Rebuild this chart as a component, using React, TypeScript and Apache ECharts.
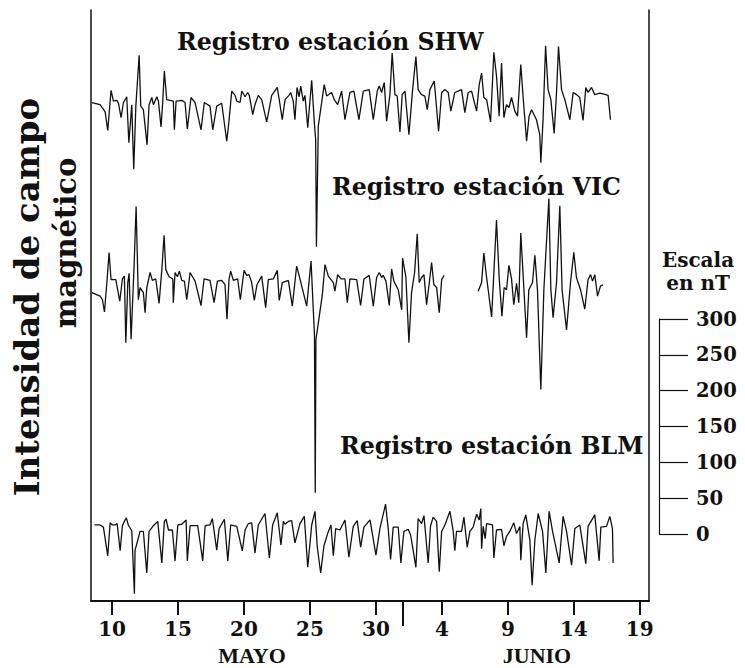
import React, { useEffect, useRef } from "react";
import * as echarts from "echarts";

// x = day count from 1 May (June d = 31 + d), y = deviation in nT from each station's trace baseline
const shwData: number[][] = [
  [8.46,0],[9.09,-3],[9.47,-13],[9.67,-39],[9.92,17],[10.10,2],[10.36,3],[10.48,-1],[10.68,-21],[10.86,0],[11.11,8],[11.27,-56],[11.49,-3],[11.64,-93],[11.80,-5],[12.05,66],[12.17,-5],[12.37,-10],[12.65,-59],[12.80,-3],[13.01,7],[13.13,-3],[13.39,8],[13.51,2],[13.71,-34],[13.84,2],[13.96,44],[14.14,4],[14.64,2],[14.72,-38],[14.85,2],[15.28,3],[15.53,0],[15.70,-37],[15.98,7],[16.29,0],[16.74,-38],[16.99,0],[17.42,-5],[17.63,-38],[17.93,-5],[18.31,-1],[18.69,-54],[18.86,-26],[19.07,16],[19.32,10],[19.45,2],[19.70,0],[19.83,16],[20.08,8],[20.28,14],[20.40,10],[20.66,-17],[20.83,-3],[21.08,10],[21.34,4],[21.72,-27],[22.10,10],[22.52,21],[22.67,4],[22.90,-24],[23.11,4],[23.41,10],[23.54,14],[23.73,2],[23.86,-24],[24.02,21],[24.17,8],[24.30,23],[24.49,2],[24.62,10],[24.83,-35],[25.13,31],[25.33,-28],[25.43,-52],[25.49,-201],[25.63,-33],[26.08,25],[26.27,9],[26.64,14],[26.84,4],[27.10,-3],[27.40,16],[27.65,-24],[28.03,14],[28.33,16],[28.71,-24],[29.04,16],[29.49,18],[29.80,-24],[30.10,16],[30.25,23],[30.43,14],[30.63,28],[30.81,-26],[31.06,11],[31.23,69],[31.44,11],[31.61,9],[31.82,-41],[31.99,11],[32.20,16],[32.50,-45],[32.78,18],[33.03,64],[33.20,18],[33.46,11],[33.71,9],[33.89,-10],[34.09,18],[34.42,30],[34.75,-40],[34.98,14],[35.23,18],[35.48,14],[35.68,-12],[35.98,14],[36.23,16],[36.49,18],[36.74,-14],[36.99,14],[37.25,16],[37.63,-12],[37.83,25],[38.01,41],[38.18,7],[38.39,4],[38.69,-27],[38.94,70],[39.14,37],[39.34,-19],[39.52,55],[39.70,-21],[39.90,-3],[40.08,-7],[40.28,7],[40.53,-12],[40.73,-19],[40.98,53],[41.16,7],[41.42,-54],[41.61,-19],[41.80,-10],[42.17,-24],[42.42,-45],[42.50,-84],[42.67,-24],[42.86,79],[43.05,18],[43.26,4],[43.51,-43],[43.69,14],[43.84,78],[44.07,18],[44.32,4],[44.70,-24],[44.95,14],[45.20,11],[45.45,7],[45.70,-25],[45.91,21],[46.08,14],[46.34,21],[46.59,11],[46.97,13],[47.42,11],[47.60,10],[47.78,-24]
];

const vicDataA: number[][] = [
  [8.46,0],[9.09,-5],[9.27,-10],[9.42,-27],[9.62,18],[9.77,56],[9.92,18],[10.28,18],[10.58,-12],[10.78,19],[10.93,23],[11.04,-70],[11.19,14],[11.29,27],[11.44,-65],[11.67,39],[11.82,120],[11.99,-10],[12.12,7],[12.37,0],[12.50,-28],[12.63,7],[12.88,28],[13.05,17],[13.31,19],[13.56,-15],[13.77,32],[13.94,80],[14.07,32],[14.32,22],[14.60,19],[14.64,-14],[14.77,28],[14.95,22],[15.10,30],[15.28,17],[15.48,16],[15.66,-10],[15.91,28],[16.29,16],[16.74,-18],[16.97,19],[17.42,17],[17.73,-14],[17.98,16],[18.31,17],[18.56,11],[18.71,-37],[18.86,18],[18.99,30],[19.19,17],[19.52,19],[19.72,-10],[20.00,31],[20.20,24],[20.38,25],[20.58,14],[20.78,-11],[20.98,11],[21.34,23],[21.64,-21],[21.84,18],[22.22,19],[22.52,31],[22.67,-11],[22.90,14],[23.36,17],[23.66,-19],[23.99,37],[24.24,19],[24.75,-19],[25.08,44],[25.34,-59],[25.40,-279],[25.45,-66],[25.93,-4],[26.14,39],[26.39,23],[26.77,14],[26.89,2],[27.10,25],[27.35,19],[27.65,19],[27.83,-14],[28.03,19],[28.54,18],[28.84,-18],[29.09,19],[29.49,24],[29.80,-19],[30.05,21],[30.25,28],[30.43,21],[30.55,24],[30.76,16],[31.01,-18],[31.19,33],[31.36,16],[31.52,10],[31.69,4],[31.95,-24],[32.02,48],[32.27,22],[32.50,-70],[32.70,0],[32.93,28],[33.13,82],[33.28,14],[33.46,21],[33.64,25],[33.84,-17],[34.04,13],[34.22,42],[34.39,11],[34.60,7],[34.80,-28],[34.98,18],[35.17,24]
];

const vicDataB: number[][] = [
  [37.75,2],[38.01,14],[38.18,55],[38.39,21],[38.51,4],[38.77,-34],[39.14,101],[39.34,21],[39.55,-33],[39.72,7],[39.90,4],[40.08,38],[40.28,19],[40.45,-17],[40.66,13],[40.83,-14],[40.98,83],[41.21,7],[41.42,-63],[41.59,4],[41.87,14],[42.05,52],[42.25,2],[42.50,-135],[42.73,4],[43.11,131],[43.26,4],[43.43,-35],[43.69,14],[43.94,121],[44.11,4],[44.45,-52],[44.75,14],[45.00,56],[45.20,21],[45.51,4],[45.83,-23],[46.08,18],[46.27,25],[46.42,16],[46.59,25],[46.80,-5],[47.02,9],[47.22,11]
];

const blmData: number[][] = [
  [8.66,0],[9.09,0],[9.34,-3],[9.67,-43],[9.85,3],[10.02,0],[10.23,0],[10.38,2],[10.61,-36],[10.78,-1],[10.93,5],[11.08,10],[11.23,0],[11.49,-8],[11.69,-96],[11.74,-35],[11.92,-23],[12.12,-9],[12.37,-9],[12.63,-67],[12.80,-9],[13.13,-1],[13.46,5],[13.77,-53],[13.96,5],[14.09,8],[14.27,-7],[14.57,-7],[14.77,-50],[14.98,0],[15.28,1],[15.61,7],[15.70,-50],[15.91,-1],[16.49,-1],[16.87,-50],[17.05,-1],[17.42,0],[17.60,9],[17.93,-35],[18.11,-5],[18.51,8],[18.77,-50],[18.99,0],[19.45,-2],[19.87,-36],[20.08,-7],[20.33,2],[20.58,3],[20.83,-39],[21.08,0],[21.59,16],[21.92,-46],[22.17,0],[22.52,17],[22.80,-28],[22.98,5],[23.11,1],[23.36,5],[23.61,6],[23.86,-25],[24.24,2],[24.57,12],[24.83,-59],[25.13,0],[25.38,19],[25.55,-30],[25.81,-67],[26.06,-29],[26.34,-12],[26.59,0],[26.77,-43],[26.95,-5],[27.27,-7],[27.65,7],[27.95,-45],[28.28,-2],[28.58,6],[28.84,-31],[29.09,-3],[29.55,7],[30.00,-42],[30.30,-5],[30.73,29],[30.93,-5],[31.11,-48],[31.31,-3],[31.69,-3],[31.89,-53],[32.12,-9],[32.45,-6],[32.63,-14],[33.03,-59],[33.20,9],[33.46,2],[33.64,13],[33.96,-53],[34.14,-1],[34.34,11],[34.60,5],[34.80,-65],[34.98,-9],[35.23,0],[35.61,19],[35.86,-9],[35.98,-36],[36.11,-9],[36.49,-9],[36.67,11],[36.92,-31],[37.12,-9],[37.37,-3],[37.63,15],[37.83,7],[37.95,23],[38.01,-33],[38.13,-2],[38.28,-19],[38.39,2],[38.84,0],[38.94,-46],[39.14,-7],[39.52,-6],[39.70,-29],[39.90,-16],[40.15,-9],[40.45,3],[40.66,-12],[40.91,-2],[40.98,-49],[41.16,2],[41.36,14],[41.67,-21],[41.84,-84],[42.05,-21],[42.30,16],[42.63,-9],[42.88,-67],[43.13,19],[43.39,-9],[43.89,-53],[44.19,12],[44.45,-9],[44.83,-56],[45.08,-5],[45.45,0],[45.91,-54],[46.08,-2],[46.59,14],[46.92,-50],[47.05,-3],[47.48,-2],[47.73,12],[47.93,-5],[47.98,-53]
];

// vertical placement of each trace (nT on the common scale)
const shwOffset = 695;
const vicOffset = 430;
const blmOffset = 106;

const dayTicks = [10, 15, 20, 25, 30, 35, 40, 45, 50];
const monthBoundary = [32];
const scaleTicks = [0, 50, 100, 150, 200, 250, 300];

const titles = ["Registro estación SHW", "Registro estación VIC", "Registro estación BLM"];

const FONT = "DejaVu Serif";

export default function App() {
  const ref = useRef<HTMLDivElement>(null);
  useEffect(() => {
    if (!ref.current) return;
    const chart = echarts.init(ref.current, null, { renderer: "svg" });
    const shift = (arr: number[][], off: number) => arr.map((p) => [p[0], p[1] + off]);
    const lineSeries = (data: number[][]) => ({
      type: "line",
      data,
      xAxisIndex: 0,
      yAxisIndex: 0,
      showSymbol: false,
      symbol: "none",
      lineStyle: { color: "#111", width: 1.3 },
      silent: true,
    });
    const titleFont = `bold 23.7px "${FONT}"`;
    chart.setOption({
      animation: false,
      backgroundColor: "#fff",
      grid: [
        { left: 91, right: 96, top: 10, bottom: 67 },
        { left: 659, width: 10, top: 319, height: 215 },
      ],
      xAxis: [
        {
          type: "value", gridIndex: 0, min: 8.4, max: 50.7, position: "bottom",
          splitLine: { show: false },
          axisLine: { show: true, lineStyle: { color: "#111", width: 2 } },
          axisTick: { show: true, length: 14, lineStyle: { color: "#111", width: 2 }, customValues: dayTicks },
          axisLabel: {
            show: true, customValues: dayTicks, margin: 18,
            formatter: (v: number) => String(v > 31 ? v - 31 : v),
            color: "#111", fontFamily: FONT, fontWeight: "bold", fontSize: 20,
          },
        },
        {
          type: "value", gridIndex: 0, min: 8.4, max: 50.7, position: "bottom",
          splitLine: { show: false },
          axisLine: { show: false },
          axisTick: { show: true, length: 25, lineStyle: { color: "#111", width: 2 }, customValues: monthBoundary },
          axisLabel: { show: false },
        },
        { type: "value", gridIndex: 1, min: 0, max: 1, show: false },
      ],
      yAxis: [
        {
          type: "value", gridIndex: 0, min: 0, max: 824, position: "left",
          splitLine: { show: false }, axisTick: { show: false }, axisLabel: { show: false },
          axisLine: { show: true, lineStyle: { color: "#111", width: 1.5 } },
        },
        {
          type: "value", gridIndex: 0, min: 0, max: 824, position: "right",
          splitLine: { show: false }, axisTick: { show: false }, axisLabel: { show: false },
          axisLine: { show: true, lineStyle: { color: "#111", width: 1.5 } },
        },
        {
          type: "value", gridIndex: 1, min: 0, max: 300, interval: 50, position: "left",
          splitLine: { show: false },
          axisLine: { show: true, lineStyle: { color: "#111", width: 1.2 } },
          axisTick: { show: true, inside: true, length: 29, lineStyle: { color: "#111", width: 1.2 }, customValues: scaleTicks },
          axisLabel: {
            show: true, inside: true, margin: 37, customValues: scaleTicks,
            color: "#111", fontFamily: FONT, fontWeight: "bold", fontSize: 19.5,
          },
        },
      ],
      series: [
        lineSeries(shift(shwData, shwOffset)),
        lineSeries(shift(vicDataA, vicOffset)),
        lineSeries(shift(vicDataB, vicOffset)),
        lineSeries(shift(blmData, blmOffset)),
        { type: "line", xAxisIndex: 2, yAxisIndex: 2, data: [], showSymbol: false },
      ],
      graphic: [
        { type: "text", x: 177, y: 42, style: { text: titles[0], font: titleFont, fill: "#111", align: "left", verticalAlign: "middle" } },
        { type: "text", x: 332, y: 187, style: { text: titles[1], font: titleFont, fill: "#111", align: "left", verticalAlign: "middle" } },
        { type: "text", x: 340, y: 446, style: { text: titles[2], font: titleFont, fill: "#111", align: "left", verticalAlign: "middle" } },
        { type: "text", x: 27, y: 297, rotation: Math.PI / 2, style: { text: "Intensidad de campo", font: `bold 34px "${FONT}"`, fill: "#111", align: "center", verticalAlign: "middle" } },
        { type: "text", x: 66, y: 243, rotation: Math.PI / 2, style: { text: "magnético", font: `bold 29px "${FONT}"`, fill: "#111", align: "center", verticalAlign: "middle" } },
        { type: "text", x: 698, y: 260, style: { text: "Escala", font: `bold 20px "${FONT}"`, fill: "#111", align: "center", verticalAlign: "middle" } },
        { type: "text", x: 698, y: 283, style: { text: "en nT", font: `bold 20px "${FONT}"`, fill: "#111", align: "center", verticalAlign: "middle" } },
        { type: "text", x: 252, y: 655, style: { text: "MAYO", font: `bold 22px "Liberation Serif"`, fill: "#111", align: "center", verticalAlign: "middle" } },
        { type: "text", x: 537, y: 655, style: { text: "JUNIO", font: `bold 22px "Liberation Serif"`, fill: "#111", align: "center", verticalAlign: "middle" } },
      ],
    });
    return () => chart.dispose();
  }, []);
  return <div ref={ref} style={{ width: 745, height: 668, position: "absolute", left: 0, top: 0 }} />;
}
